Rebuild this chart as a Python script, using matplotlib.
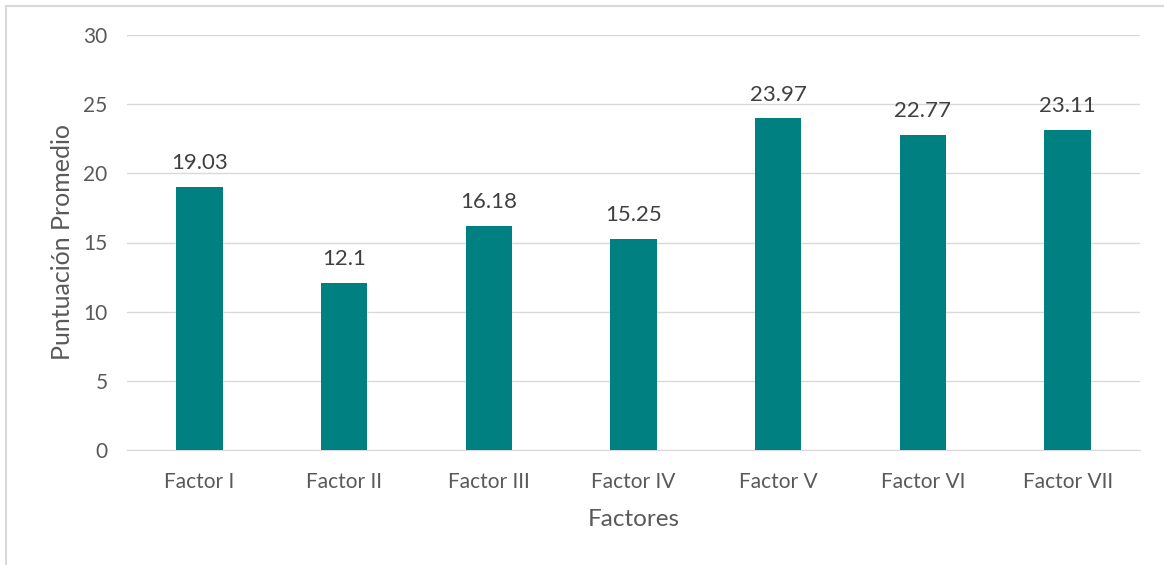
import matplotlib.pyplot as plt
from matplotlib.patches import Rectangle
import numpy as np

# Average score per factor
factores = ["Factor I", "Factor II", "Factor III", "Factor IV",
            "Factor V", "Factor VI", "Factor VII"]
puntuacion = [19.03, 12.1, 16.18, 15.25, 23.97, 22.77, 23.11]
etiquetas = ["19.03", "12.1", "16.18", "15.25", "23.97", "22.77", "23.11"]
yticks = [0, 5, 10, 15, 20, 25, 30]

plt.rcParams['font.family'] = ['Lato', 'DejaVu Sans']
gris = '#595959'

fig = plt.figure(figsize=(11.64, 5.65), dpi=100)
ax = fig.add_axes([127 / 1164, 1 - 450 / 565, 1013 / 1164, 415 / 565])

x = np.arange(len(factores))
barras = ax.bar(x, puntuacion, width=0.32, color='#008080', zorder=3)

for b, txt in zip(barras, etiquetas):
    ax.annotate(txt, (b.get_x() + b.get_width() / 2, b.get_height()),
                xytext=(0, 10), textcoords='offset points',
                ha='center', va='bottom', fontsize=16, color='#404040')

ax.set_xlim(-0.5, len(factores) - 0.5)
ax.set_ylim(0, 30)
ax.set_yticks(yticks)
ax.set_xticks(x)
ax.set_xticklabels(factores)
ax.tick_params(axis='both', length=0, labelsize=15, colors=gris)
ax.tick_params(axis='y', pad=14)
ax.tick_params(axis='x', pad=16)
ax.yaxis.grid(True, color='#d9d9d9', linewidth=1, zorder=0)
for s in ['top', 'right', 'left']:
    ax.spines[s].set_visible(False)
ax.spines['bottom'].set_color('#d9d9d9')

ax.set_xlabel("Factores", fontsize=17.5, color=gris, va='center')
ax.xaxis.set_label_coords(0.5, -70 / 415)
ax.set_ylabel("Puntuación Promedio", fontsize=18, color=gris, va='center')
ax.yaxis.set_label_coords(-65 / 1013, 0.5)

# outer chart frame
fig.patches.append(Rectangle((6 / 1164, -0.1), 1.2, 1.1 - 6 / 565,
                             transform=fig.transFigure, fill=False,
                             edgecolor='#d9d9d9', linewidth=1.5))

fig.savefig("out.png", dpi=100)
